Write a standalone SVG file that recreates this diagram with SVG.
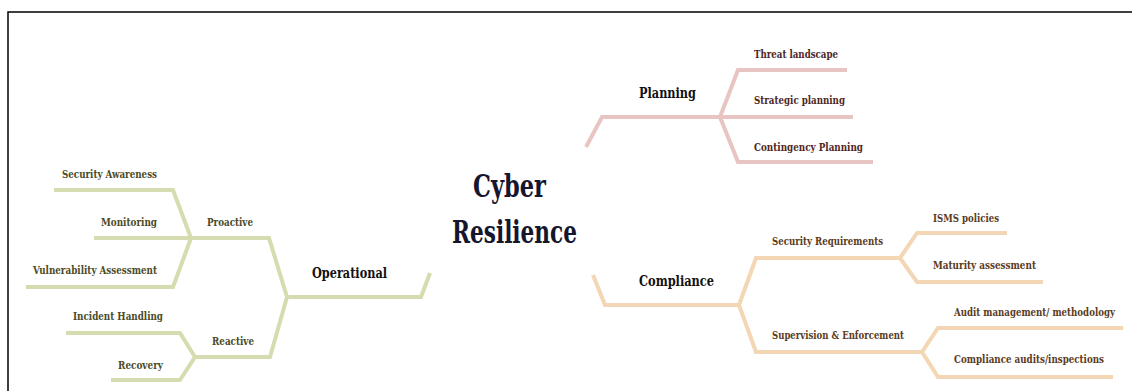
<svg xmlns="http://www.w3.org/2000/svg" width="1132" height="391" viewBox="0 0 1132 391">
<style>
.lnk{fill:none;stroke-width:4;stroke-linejoin:miter;stroke-linecap:butt}
.g{stroke:#d7dcb0}
.p{stroke:#e8c5c2}
.t{stroke:#f3d6b3}
text{font-family:"DejaVu Serif Condensed","DejaVu Serif","Liberation Serif",serif;font-stretch:condensed;font-weight:bold}
.s{font-size:11.5px}
.m{font-size:15px;fill:#111}
.tg{fill:#4b4b28}
.tp{fill:#4e2626}
.tt{fill:#5a3b1d}
.c{font-size:32px;fill:#16162e}
</style>
<rect x="8" y="12" width="1140" height="400" fill="#fff" stroke="#000" stroke-width="1.5"/>
<g id="connectors">
<path class="lnk g" d="M54,190 H173 L191,238"/>
<path class="lnk g" d="M94,238 H191"/>
<path class="lnk g" d="M26,287 H173 L191,238"/>
<path class="lnk g" d="M191,238 H269 L287,297"/>
<path class="lnk g" d="M287,297 H421 L430,273"/>
<path class="lnk g" d="M287,297 L270,357 H195"/>
<path class="lnk g" d="M66,333 H180 L195,357"/>
<path class="lnk g" d="M111,380 H180 L195,357"/>
<path class="lnk p" d="M586,147 L602,117 H720"/>
<path class="lnk p" d="M720,117 L738,70 H847"/>
<path class="lnk p" d="M720,117 H853"/>
<path class="lnk p" d="M720,117 L738,162 H873"/>
<path class="lnk t" d="M593,275 L605,305 H739"/>
<path class="lnk t" d="M739,305 L756,258 H900"/>
<path class="lnk t" d="M739,305 L756,352 H922"/>
<path class="lnk t" d="M900,258 L917,233 H1007"/>
<path class="lnk t" d="M900,258 L917,282 H1043"/>
<path class="lnk t" d="M922,352 L938,328 H1123"/>
<path class="lnk t" d="M922,352 L938,377 H1113"/>
</g>
<g id="center"><text class="c" x="473" y="197" textLength="73" lengthAdjust="spacingAndGlyphs">Cyber</text><text class="c" x="452" y="243" textLength="125" lengthAdjust="spacingAndGlyphs">Resilience</text></g>
<g id="operational"><text class="m" x="312" y="278" textLength="75" lengthAdjust="spacingAndGlyphs">Operational</text></g>
<g id="proactive"><text class="s tg" x="207" y="226" textLength="46" lengthAdjust="spacingAndGlyphs">Proactive</text></g>
<g id="reactive"><text class="s tg" x="212" y="345" textLength="42" lengthAdjust="spacingAndGlyphs">Reactive</text></g>
<g id="security-awareness"><text class="s tg" x="62" y="178" textLength="95" lengthAdjust="spacingAndGlyphs">Security Awareness</text></g>
<g id="monitoring"><text class="s tg" x="101" y="226" textLength="56" lengthAdjust="spacingAndGlyphs">Monitoring</text></g>
<g id="vulnerability"><text class="s tg" x="33" y="274" textLength="124" lengthAdjust="spacingAndGlyphs">Vulnerability Assessment</text></g>
<g id="incident"><text class="s tg" x="73" y="320" textLength="90" lengthAdjust="spacingAndGlyphs">Incident Handling</text></g>
<g id="recovery"><text class="s tg" x="118" y="369" textLength="45" lengthAdjust="spacingAndGlyphs">Recovery</text></g>
<g id="planning"><text class="m" x="639" y="98" textLength="57" lengthAdjust="spacingAndGlyphs">Planning</text></g>
<g id="threat"><text class="s tp" x="754" y="58" textLength="84" lengthAdjust="spacingAndGlyphs">Threat landscape</text></g>
<g id="strategic"><text class="s tp" x="754" y="104" textLength="91" lengthAdjust="spacingAndGlyphs">Strategic planning</text></g>
<g id="contingency"><text class="s tp" x="754" y="151" textLength="109" lengthAdjust="spacingAndGlyphs">Contingency Planning</text></g>
<g id="compliance"><text class="m" x="639" y="286" textLength="75" lengthAdjust="spacingAndGlyphs">Compliance</text></g>
<g id="security-req"><text class="s tt" x="772" y="245" textLength="111" lengthAdjust="spacingAndGlyphs">Security Requirements</text></g>
<g id="supervision"><text class="s tt" x="772" y="339" textLength="132" lengthAdjust="spacingAndGlyphs">Supervision &amp; Enforcement</text></g>
<g id="isms"><text class="s tt" x="933" y="222" textLength="66" lengthAdjust="spacingAndGlyphs">ISMS policies</text></g>
<g id="maturity"><text class="s tt" x="933" y="269" textLength="103" lengthAdjust="spacingAndGlyphs">Maturity assessment</text></g>
<g id="audit"><text class="tt" font-size="10.5" x="954" y="316" textLength="161" lengthAdjust="spacingAndGlyphs">Audit management/ methodology</text></g>
<g id="comp-audits"><text class="s tt" x="954" y="363" textLength="150" lengthAdjust="spacingAndGlyphs">Compliance audits/inspections</text></g>
</svg>
